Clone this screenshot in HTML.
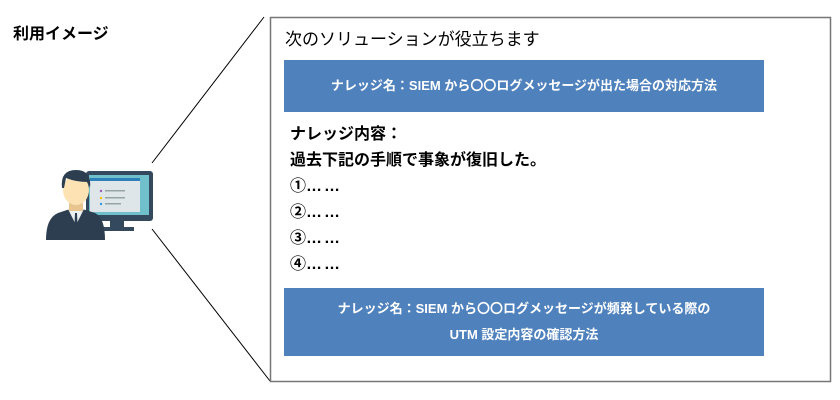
<!DOCTYPE html>
<html><head><meta charset="utf-8"><style>
body{margin:0;width:840px;height:400px;background:#fff;position:relative;overflow:hidden;font-family:"Liberation Sans","Noto Sans CJK JP",sans-serif;color:#000}
.a{position:absolute}
.band{position:absolute;left:284px;width:480px;background:#4f81bd;color:#fff;font-size:13px;font-weight:bold;text-align:center}
.e{letter-spacing:2px}
</style></head><body>
<div class="a" style="left:13px;top:20px;font-size:16px;font-weight:bold">利用イメージ</div>
<svg class="a" style="left:0;top:0" width="840" height="400">
<line x1="152" y1="163" x2="264" y2="17" stroke="#000" stroke-width="1"/>
<line x1="152" y1="229" x2="270" y2="381" stroke="#000" stroke-width="1"/>
<rect x="270.5" y="17.5" width="560" height="364" fill="none" stroke="#777" stroke-width="1.5"/>
<rect x="86" y="171" width="67" height="50" rx="3" fill="#34495e"/>
<rect x="89" y="175" width="60" height="40" fill="#6fc0cb"/>
<rect x="90" y="180" width="50" height="32" fill="#dfe6ea"/>
<rect x="90" y="178" width="50" height="3" fill="#2e80b9"/>
<circle cx="101" cy="191" r="1.2" fill="#9b59b6"/><rect x="105" y="190" width="20" height="1.5" fill="#95a5a6"/>
<circle cx="101" cy="198" r="1.2" fill="#f1c40f"/><rect x="105" y="197" width="20" height="1.5" fill="#95a5a6"/>
<circle cx="101" cy="204" r="1.2" fill="#3498db"/><rect x="105" y="203" width="16" height="1.5" fill="#95a5a6"/>
<rect x="110" y="221" width="14" height="7" fill="#34495e"/>
<rect x="100" y="227" width="34" height="4" fill="#34495e"/>
<path d="M46 240 Q46 218 58 213 L76 207 L95 213 Q105 218 105 240 Z" fill="#2c3e50"/>
<path d="M68 209 L76 225 L84 209 Z" fill="#ecf0f1"/>
<path d="M75 213 L77 213 L78 236 L76 240 L74 236 Z" fill="#2c3e50"/>
<rect x="69" y="199" width="14" height="12" fill="#e8c48f"/>
<ellipse cx="76" cy="190" rx="13" ry="15" fill="#fde3b4"/>
<path d="M62 188 Q60 170 76 170 Q92 170 90 188 L88 182 Q76 182 66 178 L64 188 Z" fill="#2c3e50"/>
</svg>
<div class="a" style="left:285px;top:25px;font-size:17px">次のソリューションが役立ちます</div>
<div class="band" style="top:60px;height:52px;line-height:52px">ナレッジ名：SIEM から〇〇ログメッセージが出た場合の対応方法</div>
<div class="a" style="left:290px;top:122px;font-size:16px;font-weight:bold;line-height:26px">ナレッジ内容：<br>過去下記の手順で事象が復旧した。<br>①<span class="e">……</span><br>②<span class="e">……</span><br>③<span class="e">……</span><br>④<span class="e">……</span></div>
<div class="band" style="top:288px;height:68px;padding-top:8px;box-sizing:border-box;line-height:26px">ナレッジ名：SIEM から〇〇ログメッセージが頻発している際の<br>UTM 設定内容の確認方法</div>
</body></html>
